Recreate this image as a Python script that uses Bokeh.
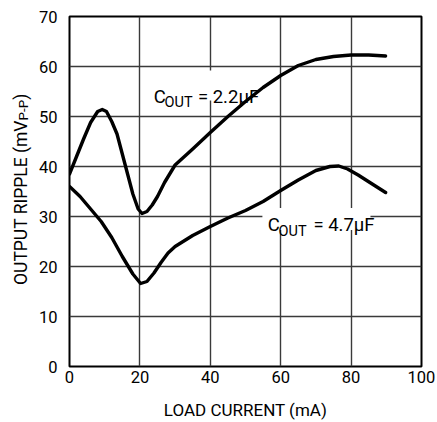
from bokeh.plotting import figure
from bokeh.models import Range1d, Label, FixedTicker, Div
from bokeh.layouts import row
from bokeh.embed import file_html
from bokeh.resources import INLINE

# ---- data ----
x_22 = [0, 2, 4, 6, 8, 9.3, 10.5, 12, 13.5, 15, 16.5, 18, 19.5, 20.6, 22, 23.5, 25, 27, 30,
        35, 40, 45, 50, 55, 60, 65, 70, 75, 80, 85, 89.8]
y_22 = [38.5, 42, 45.5, 48.8, 51, 51.4, 51, 49, 46.5, 42.5, 38.5, 34.5, 31.5, 30.6, 31, 32.3, 34.0, 36.8, 40.3,
        43.5, 46.8, 50, 53, 55.8, 58.2, 60.2, 61.4, 62, 62.3, 62.3, 62.1]

x_47 = [0, 3, 6, 9, 12, 15, 18, 20.2, 22, 24, 26, 28, 30, 35, 40, 45, 50, 55, 60, 65, 70, 74,
        76.5, 79, 82, 86, 89.8]
y_47 = [36, 34, 31.5, 29, 25.8, 22, 18.5, 16.6, 17, 18.7, 20.8, 22.7, 24, 26.2, 28, 29.7, 31.2, 33,
        35.2, 37.3, 39.2, 40, 40.1, 39.5, 38.3, 36.5, 34.8]

x_ticks = [0, 20, 40, 60, 80, 100]
y_ticks = [0, 10, 20, 30, 40, 50, 60, 70]

FONT = "Roboto"
LEFT_W = 32  # width of the strip that holds the rotated y-axis title

# ---- rotated y-axis title with subscript (HTML text) ----
ytitle = Div(
    width=LEFT_W, height=422, styles={"overflow": "visible", "margin": "0", "padding": "0"},
    text=(
        '<div style="position:relative;width:%dpx;height:422px;">'
        '<div style="position:absolute;left:12.8px;top:285px;transform-origin:0 0;'
        'transform:rotate(-90deg);white-space:nowrap;font-family:Roboto;font-size:17.5px;'
        'line-height:1;color:#000;">OUTPUT RIPPLE (mV'
        '<span style="font-size:13.5px;position:relative;top:1px;">P-P</span>)</div></div>'
    ) % LEFT_W,
)

# ---- main chart ----
p = figure(width=437 - LEFT_W, height=422, output_backend="svg", toolbar_location=None,
           x_range=Range1d(0, 100), y_range=Range1d(0, 70),
           min_border_left=69 - LEFT_W, min_border_right=16, min_border_top=16, min_border_bottom=55)

p.background_fill_color = "white"
p.border_fill_color = "white"
p.outline_line_color = "black"
p.outline_line_width = 2

p.xgrid.ticker = FixedTicker(ticks=x_ticks)
p.ygrid.ticker = FixedTicker(ticks=y_ticks)
p.grid.grid_line_color = "#3a3a3a"
p.grid.grid_line_width = 1.4
p.grid.grid_line_alpha = 1.0

for ax in (p.xaxis[0], p.yaxis[0]):
    ax.axis_line_color = None
    ax.major_tick_line_color = None
    ax.minor_tick_line_color = None
    ax.major_label_text_font = FONT
    ax.major_label_text_font_size = "16.5px"
    ax.major_label_text_color = "black"
p.xaxis.ticker = FixedTicker(ticks=x_ticks)
p.yaxis.ticker = FixedTicker(ticks=y_ticks)
p.xaxis.major_label_standoff = -2
p.yaxis.major_label_standoff = 6
p.xaxis.axis_label = "LOAD CURRENT (mA)"
p.xaxis.axis_label_text_font = FONT
p.xaxis.axis_label_text_font_size = "17px"
p.xaxis.axis_label_text_font_style = "normal"
p.xaxis.axis_label_standoff = 14
p.xaxis.axis_label_text_color = "black"

# white boxes behind the curve labels (drawn beneath curves)
p.quad(left=[23.0, 54.8], right=[51.9, 85.5], bottom=[53.2, 27.3], top=[59.2, 31.7],
       fill_color="white", line_color=None)

p.line(x_22, y_22, line_color="black", line_width=3.4, line_join="round", line_cap="round")
p.line(x_47, y_47, line_color="black", line_width=3.4, line_join="round", line_cap="round")

def lab(x, y, text, size="18.5px"):
    p.add_layout(Label(x=x, y=y, text=text, text_font=FONT, text_font_size=size,
                       text_color="black", text_baseline="alphabetic", text_align="left"))

lab(23.9, 54.0, "C")
lab(27.0, 52.9, "OUT", size="14.5px")
lab(36.5, 54.0, "= 2.2\u00b5F")
lab(56.3, 28.3, "C")
lab(59.4, 27.1, "OUT", size="14.5px")
lab(69.3, 28.3, "= 4.7\u00b5F")

layout = row(ytitle, p, spacing=0)
open("out.html", "w").write(file_html(layout, INLINE))
